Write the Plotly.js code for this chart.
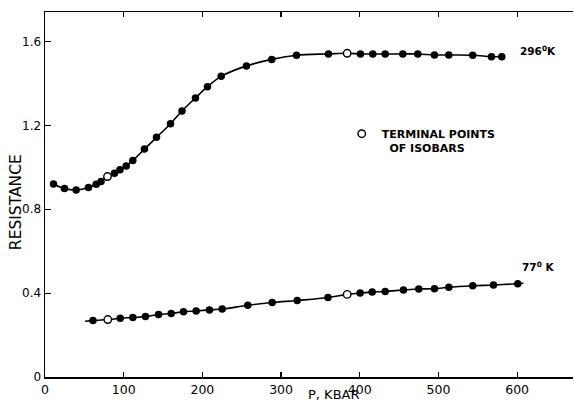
<!DOCTYPE html>
<html>
<head>
<meta charset="utf-8">
<script src="https://cdn.plot.ly/plotly-3.0.1.min.js"></script>
<style>html,body{margin:0;padding:0;background:#fff;}#chart{width:574px;height:402px;}</style>
</head>
<body>
<div id="chart"></div>
<script>
// 296 K isobar data (pressure in kbar, resistance)
const p296 = [10.8, 24.8, 39.6, 55.3, 65.1, 71.2, 79.4, 88.3, 95.3, 103.2, 111.6, 126.4, 141.7, 159.5, 174.1, 191.2, 206.5, 223.9, 256.0, 288.2, 319.6, 360.2, 384.0, 400.9, 416.5, 432.3, 454.7, 473.8, 494.9, 513.1, 543.6, 567.4, 580.5];
const r296 = [0.921, 0.899, 0.892, 0.904, 0.919, 0.932, 0.956, 0.972, 0.988, 1.007, 1.033, 1.087, 1.143, 1.208, 1.269, 1.331, 1.385, 1.434, 1.484, 1.515, 1.535, 1.541, 1.544, 1.541, 1.541, 1.541, 1.541, 1.541, 1.536, 1.536, 1.535, 1.528, 1.528];
const terminal296 = [6, 22];

// 77 K data
const p77 = [61.0, 79.8, 95.6, 111.6, 127.7, 144.3, 160.4, 176.0, 192.1, 209.0, 225.2, 257.7, 288.7, 320.5, 359.6, 384.0, 400.5, 415.8, 432.3, 455.5, 475.0, 495.0, 513.2, 543.6, 569.9, 600.8];
const r77 = [0.269, 0.274, 0.280, 0.284, 0.288, 0.298, 0.303, 0.311, 0.315, 0.320, 0.324, 0.342, 0.355, 0.365, 0.379, 0.394, 0.401, 0.405, 0.408, 0.415, 0.420, 0.421, 0.428, 0.435, 0.439, 0.445];
const terminal77 = [1, 15];
// drawn curve extends a little past the 77 K points
const curve77StartP = 51, curve77StartR = 0.266;
const curve77EndP = 608, curve77EndR = 0.447;

const xTicks = [0, 100, 200, 300, 400, 500, 600];
const xTickText = ['0', '100', '200', '300', '400', '500', '600'];
const yTicks = [0, 0.4, 0.8, 1.2, 1.6];
const yTickText = ['0', '0.4', '0.8', '1.2', '1.6'];

function pick(arr, idx, keep) {
  return arr.filter((_, i) => keep ? idx.includes(i) : !idx.includes(i));
}

const FONT = 'DejaVu Sans, sans-serif';

const traces = [
  { x: p296, y: r296, mode: 'lines', line: { color: '#000', width: 1.6, shape: 'spline', smoothing: 1 }, showlegend: false, hoverinfo: 'skip' },
  { x: [curve77StartP, ...p77, curve77EndP], y: [curve77StartR, ...r77, curve77EndR], mode: 'lines', line: { color: '#000', width: 1.6, shape: 'spline', smoothing: 1 }, showlegend: false, hoverinfo: 'skip' },
  { x: pick(p296, terminal296, false), y: pick(r296, terminal296, false), mode: 'markers', marker: { symbol: 'circle', size: 7.5, color: '#000' }, showlegend: false },
  { x: pick(p77, terminal77, false), y: pick(r77, terminal77, false), mode: 'markers', marker: { symbol: 'circle', size: 7.5, color: '#000' }, showlegend: false },
  { x: pick(p296, terminal296, true).concat(pick(p77, terminal77, true)),
    y: pick(r296, terminal296, true).concat(pick(r77, terminal77, true)),
    mode: 'markers', marker: { symbol: 'circle', size: 7.5, color: '#fff', line: { color: '#000', width: 1.4 } },
    name: '<b>TERMINAL POINTS</b><br><b>&nbsp;&nbsp;OF ISOBARS</b>', showlegend: true }
];

const layout = {
  width: 574, height: 402,
  margin: { l: 45, r: 1, t: 12, b: 25, pad: 0 },
  paper_bgcolor: '#fff', plot_bgcolor: '#fff',
  font: { family: FONT, color: '#000' },
  showlegend: true,
  legend: { x: 0.562, y: 0.704, xanchor: 'left', yanchor: 'top', bgcolor: 'rgba(0,0,0,0)', borderwidth: 0,
            font: { family: FONT, size: 11, color: '#000' }, valign: 'top', tracegroupgap: 0 },
  xaxis: {
    range: [0, 671], tickvals: xTicks, ticktext: xTickText,
    ticks: 'inside', ticklen: 5, tickwidth: 1.2, tickcolor: '#000',
    showline: true, linecolor: '#000', linewidth: 1.5, mirror: 'ticks',
    showgrid: false, zeroline: false,
    tickfont: { family: FONT, size: 12.5, color: '#000' }
  },
  yaxis: {
    range: [0, 1.741], tickvals: yTicks, ticktext: yTickText,
    ticks: 'inside', ticklen: 6, tickwidth: 1.2, tickcolor: '#000',
    showline: true, linecolor: '#000', linewidth: 1.5, mirror: false,
    showgrid: false, zeroline: false,
    tickfont: { family: FONT, size: 12, color: '#000' }
  },
  annotations: [
    { text: 'P, KBAR', xref: 'paper', yref: 'paper', x: 0.547, y: -0.049, xanchor: 'center', yanchor: 'middle', showarrow: false, font: { family: FONT, size: 13, color: '#000' } },
    { text: 'RESISTANCE', xref: 'paper', yref: 'paper', x: -0.055, y: 0.479, xanchor: 'center', yanchor: 'middle', textangle: -90, showarrow: false, font: { family: FONT, size: 15.5, color: '#000' } },
    { text: '<b>296<sup>0</sup>K</b>', xref: 'x', yref: 'y', x: 601, y: 1.555, xanchor: 'left', yanchor: 'middle', showarrow: false, font: { family: FONT, size: 10.5, color: '#000' } },
    { text: '<b>77<sup>0</sup> K</b>', xref: 'x', yref: 'y', x: 604, y: 0.525, xanchor: 'left', yanchor: 'middle', showarrow: false, font: { family: FONT, size: 10.5, color: '#000' } }
  ]
};

Plotly.newPlot('chart', traces, layout, { staticPlot: true, displayModeBar: false });
</script>
</body>
</html>
